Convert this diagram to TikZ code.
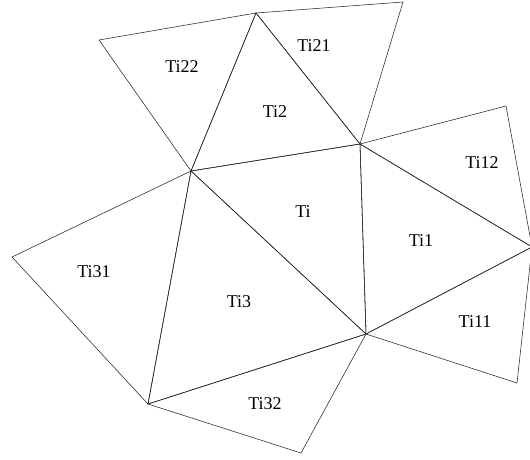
\documentclass[tikz,border=0pt]{standalone}
\usepackage{fontspec}
\setmainfont{Liberation Serif}
\usetikzlibrary{positioning}
\tikzset{
  tri/.style={draw=black!85, line width=0.55pt, line join=miter},
  lbl/.style={font=\fontsize{18}{20}\selectfont, inner sep=0pt},
}

\begin{document}
\begin{tikzpicture}[x=1pt, y=-1pt]
  \clip (0,0) rectangle (530,459);

  % corners of the mesh
  \coordinate (a) at (191,171);
  \coordinate (b) at (360,144);
  \coordinate (c) at (366,334);
  \coordinate (d) at (256,13);
  \coordinate (e) at (403,2);
  \coordinate (f) at (99,40);
  \coordinate (g) at (506,106);
  \coordinate (h) at (532,247);
  \coordinate (i) at (517,383);
  \coordinate (j) at (148,404);
  \coordinate (k) at (301,453);
  \coordinate (l) at (12,257);

  % triangles
  \draw[tri] (a) -- (b) -- (c) -- cycle;
  \draw[tri] (a) -- (d) -- (b) -- cycle;
  \draw[tri] (d) -- (e) -- (b) -- cycle;
  \draw[tri] (f) -- (d) -- (a) -- cycle;
  \draw[tri] (b) -- (h) -- (c) -- cycle;
  \draw[tri] (b) -- (g) -- (h) -- cycle;
  \draw[tri] (c) -- (h) -- (i) -- cycle;
  \draw[tri] (a) -- (c) -- (j) -- cycle;
  \draw[tri] (l) -- (a) -- (j) -- cycle;
  \draw[tri] (j) -- (c) -- (k) -- cycle;

  % labels
  \node[lbl] (ti)   at (303,212) {Ti};
  \node[lbl] (ti1)  at (421,241) {Ti1};
  \node[lbl] (ti2)  at (275,112) {Ti2};
  \node[lbl] (ti3)  at (239,302) {Ti3};
  \node[lbl] (ti11) at (475,322) {Ti11};
  \node[lbl] (ti12) at (482,163) {Ti12};
  \node[lbl] (ti21) at (314,46)  {Ti21};
  \node[lbl] (ti22) at (182,67)  {Ti22};
  \node[lbl] (ti31) at (94,272)  {Ti31};
  \node[lbl] (ti32) at (265,404) {Ti32};
\end{tikzpicture}
\end{document}
